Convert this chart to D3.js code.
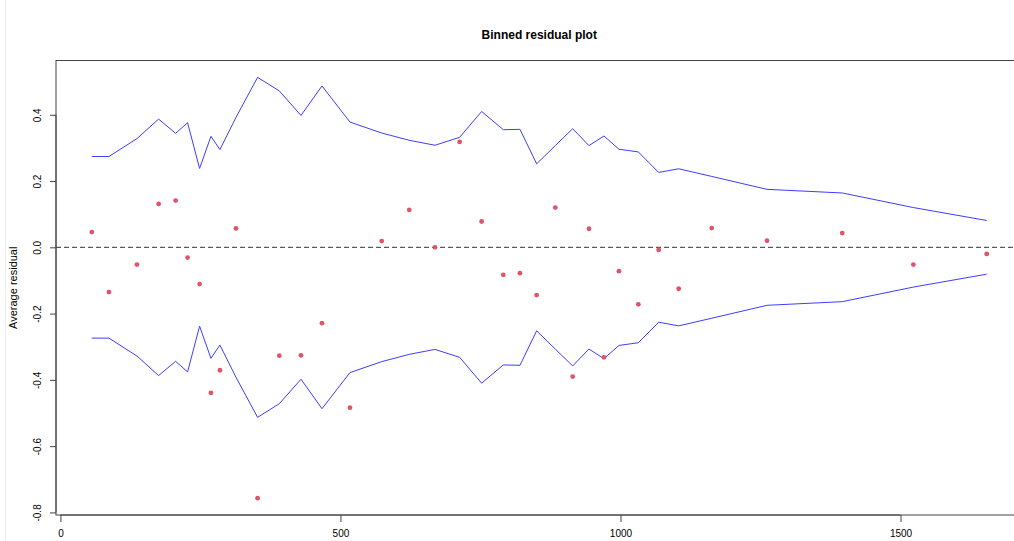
<!DOCTYPE html>
<html>
<head>
<meta charset="utf-8">
<script src="https://cdn.jsdelivr.net/npm/d3@7"></script>
<style>
  html, body { margin: 0; padding: 0; background: #fff; }
  svg { display: block; font-family: "Liberation Sans", Arial, Helvetica, sans-serif; }
</style>
</head>
<body>
<svg id="chart" width="1014" height="541"></svg>
<script>
// Mean fitted value of each bin
const binX = [56, 86.6, 136.6, 175.3, 205.7, 227, 248.5, 268.75, 284.8, 313.4,
  352, 390.8, 429.5, 467, 517, 573.6, 622.9, 668.75, 712.8, 752.1,
  790.7, 820.5, 850.3, 883.6, 914.6, 943.75, 970.5, 997.3, 1031.8, 1068.2,
  1103.9, 1162.9, 1261.6, 1396, 1522.9, 1653.9];

// Average residual in each bin
const binResidual = [0.046, -0.135, -0.052, 0.131, 0.141, -0.031, -0.111, -0.439, -0.371, 0.057,
  -0.757, -0.327, -0.326, -0.229, -0.484, 0.019, 0.113, 0.000, 0.318, 0.078,
  -0.083, -0.078, -0.144, 0.120, -0.390, 0.056, -0.332, -0.072, -0.172, -0.008,
  -0.125, 0.058, 0.020, 0.043, -0.052, -0.020];

// Two standard errors of each bin (band is +/- this value)
const binBound = [0.274, 0.274, 0.328, 0.387, 0.344, 0.376, 0.238, 0.335, 0.295, 0.392,
  0.513, 0.472, 0.398, 0.487, 0.378, 0.345, 0.323, 0.308, 0.332, 0.410,
  0.355, 0.356, 0.252, 0.307, 0.358, 0.307, 0.336, 0.296, 0.288, 0.226,
  0.237, 0.214, 0.175, 0.164, 0.120, 0.081];

const xTicks = [0, 500, 1000, 1500];
const yTicks = [-0.8, -0.6, -0.4, -0.2, 0.0, 0.2, 0.4];
const yTickLabels = ["-0.8", "-0.6", "-0.4", "-0.2", "0.0", "0.2", "0.4"];

const titleText = "Binned residual plot";
const yLabelText = "Average residual";

const svg = d3.select("#chart");

// Axis limits padded by 4% on each side
function padded(lo, hi) {
  const d = (hi - lo) * 0.04;
  return [lo - d, hi + d];
}
const xDom = padded(d3.min(binX), d3.max(binX));
const yAll = binResidual.concat(binBound, binBound.map(v => -v));
const yDom = padded(d3.min(yAll), d3.max(yAll));

const plot = { left: 56, right: 1022.5, top: 60.5, bottom: 515 };

const x = d3.scaleLinear().domain(xDom).range([plot.left, plot.right]);
const y = d3.scaleLinear().domain(yDom).range([plot.bottom, plot.top]);

// thin frame at the far left edge of the page
svg.append("line")
  .attr("x1", 5.5).attr("x2", 5.5).attr("y1", 0).attr("y2", 541)
  .attr("stroke", "#ececec").attr("stroke-width", 1);

const data = binX.map((v, i) => ({ x: v, r: binResidual[i], b: binBound[i] }));

// zero reference line
svg.append("line")
  .attr("x1", plot.left).attr("x2", plot.right)
  .attr("y1", y(0)).attr("y2", y(0))
  .attr("stroke", "#333").attr("stroke-width", 1)
  .attr("stroke-dasharray", "5,3");

// +/- 2 SE band
const upper = d3.line().x(d => x(d.x)).y(d => y(d.b));
const lower = d3.line().x(d => x(d.x)).y(d => y(-d.b));
svg.append("path").datum(data).attr("d", upper)
  .attr("fill", "none").attr("stroke", "#3d3dff").attr("stroke-width", 1);
svg.append("path").datum(data).attr("d", lower)
  .attr("fill", "none").attr("stroke", "#3d3dff").attr("stroke-width", 1);

// bin averages
svg.append("g").selectAll("circle").data(data).join("circle")
  .attr("cx", d => x(d.x)).attr("cy", d => y(d.r))
  .attr("r", 2.4).attr("fill", "#DF536B");

// plot frame
svg.append("rect")
  .attr("x", plot.left).attr("y", plot.top)
  .attr("width", plot.right - plot.left).attr("height", plot.bottom - plot.top)
  .attr("fill", "none").attr("stroke", "#444").attr("stroke-width", 1);

// x axis
const xAxis = d3.axisBottom(x).tickValues(xTicks).tickSize(7).tickPadding(8)
  .tickFormat(d3.format("d"));
const gx = svg.append("g").attr("transform", `translate(0,${plot.bottom})`).call(xAxis);
gx.select(".domain").attr("d", `M${x(xTicks[0])},0H${x(xTicks[xTicks.length - 1])}`).attr("stroke", "#444");
gx.selectAll(".tick line").attr("stroke", "#444");
gx.selectAll(".tick text").attr("font-size", "10px").attr("fill", "#000")
  .attr("font-family", "Liberation Sans, Arial, sans-serif");

// y axis with rotated labels
const yAxis = d3.axisLeft(y).tickValues(yTicks).tickSize(6)
  .tickFormat((d, i) => yTickLabels[i]);
const gy = svg.append("g").attr("transform", `translate(${plot.left},0)`).call(yAxis);
gy.select(".domain").attr("d", `M0,${y(yTicks[0])}V${y(yTicks[yTicks.length - 1])}`).attr("stroke", "#444");
gy.selectAll(".tick line").attr("stroke", "#444");
gy.selectAll(".tick text")
  .attr("x", null).attr("dy", null)
  .attr("text-anchor", "middle")
  .attr("transform", "translate(-19,0) rotate(-90)")
  .attr("dy", "0.35em")
  .attr("font-size", "10px").attr("fill", "#000")
  .attr("font-family", "Liberation Sans, Arial, sans-serif");

// title
svg.append("text")
  .attr("x", (plot.left + plot.right) / 2).attr("y", 39)
  .attr("text-anchor", "middle")
  .attr("font-size", "12px").attr("font-weight", "bold")
  .text(titleText);

// y axis title
svg.append("text")
  .attr("transform", `translate(17,${(plot.top + plot.bottom) / 2}) rotate(-90)`)
  .attr("text-anchor", "middle")
  .attr("font-size", "11px")
  .text(yLabelText);
</script>
</body>
</html>
